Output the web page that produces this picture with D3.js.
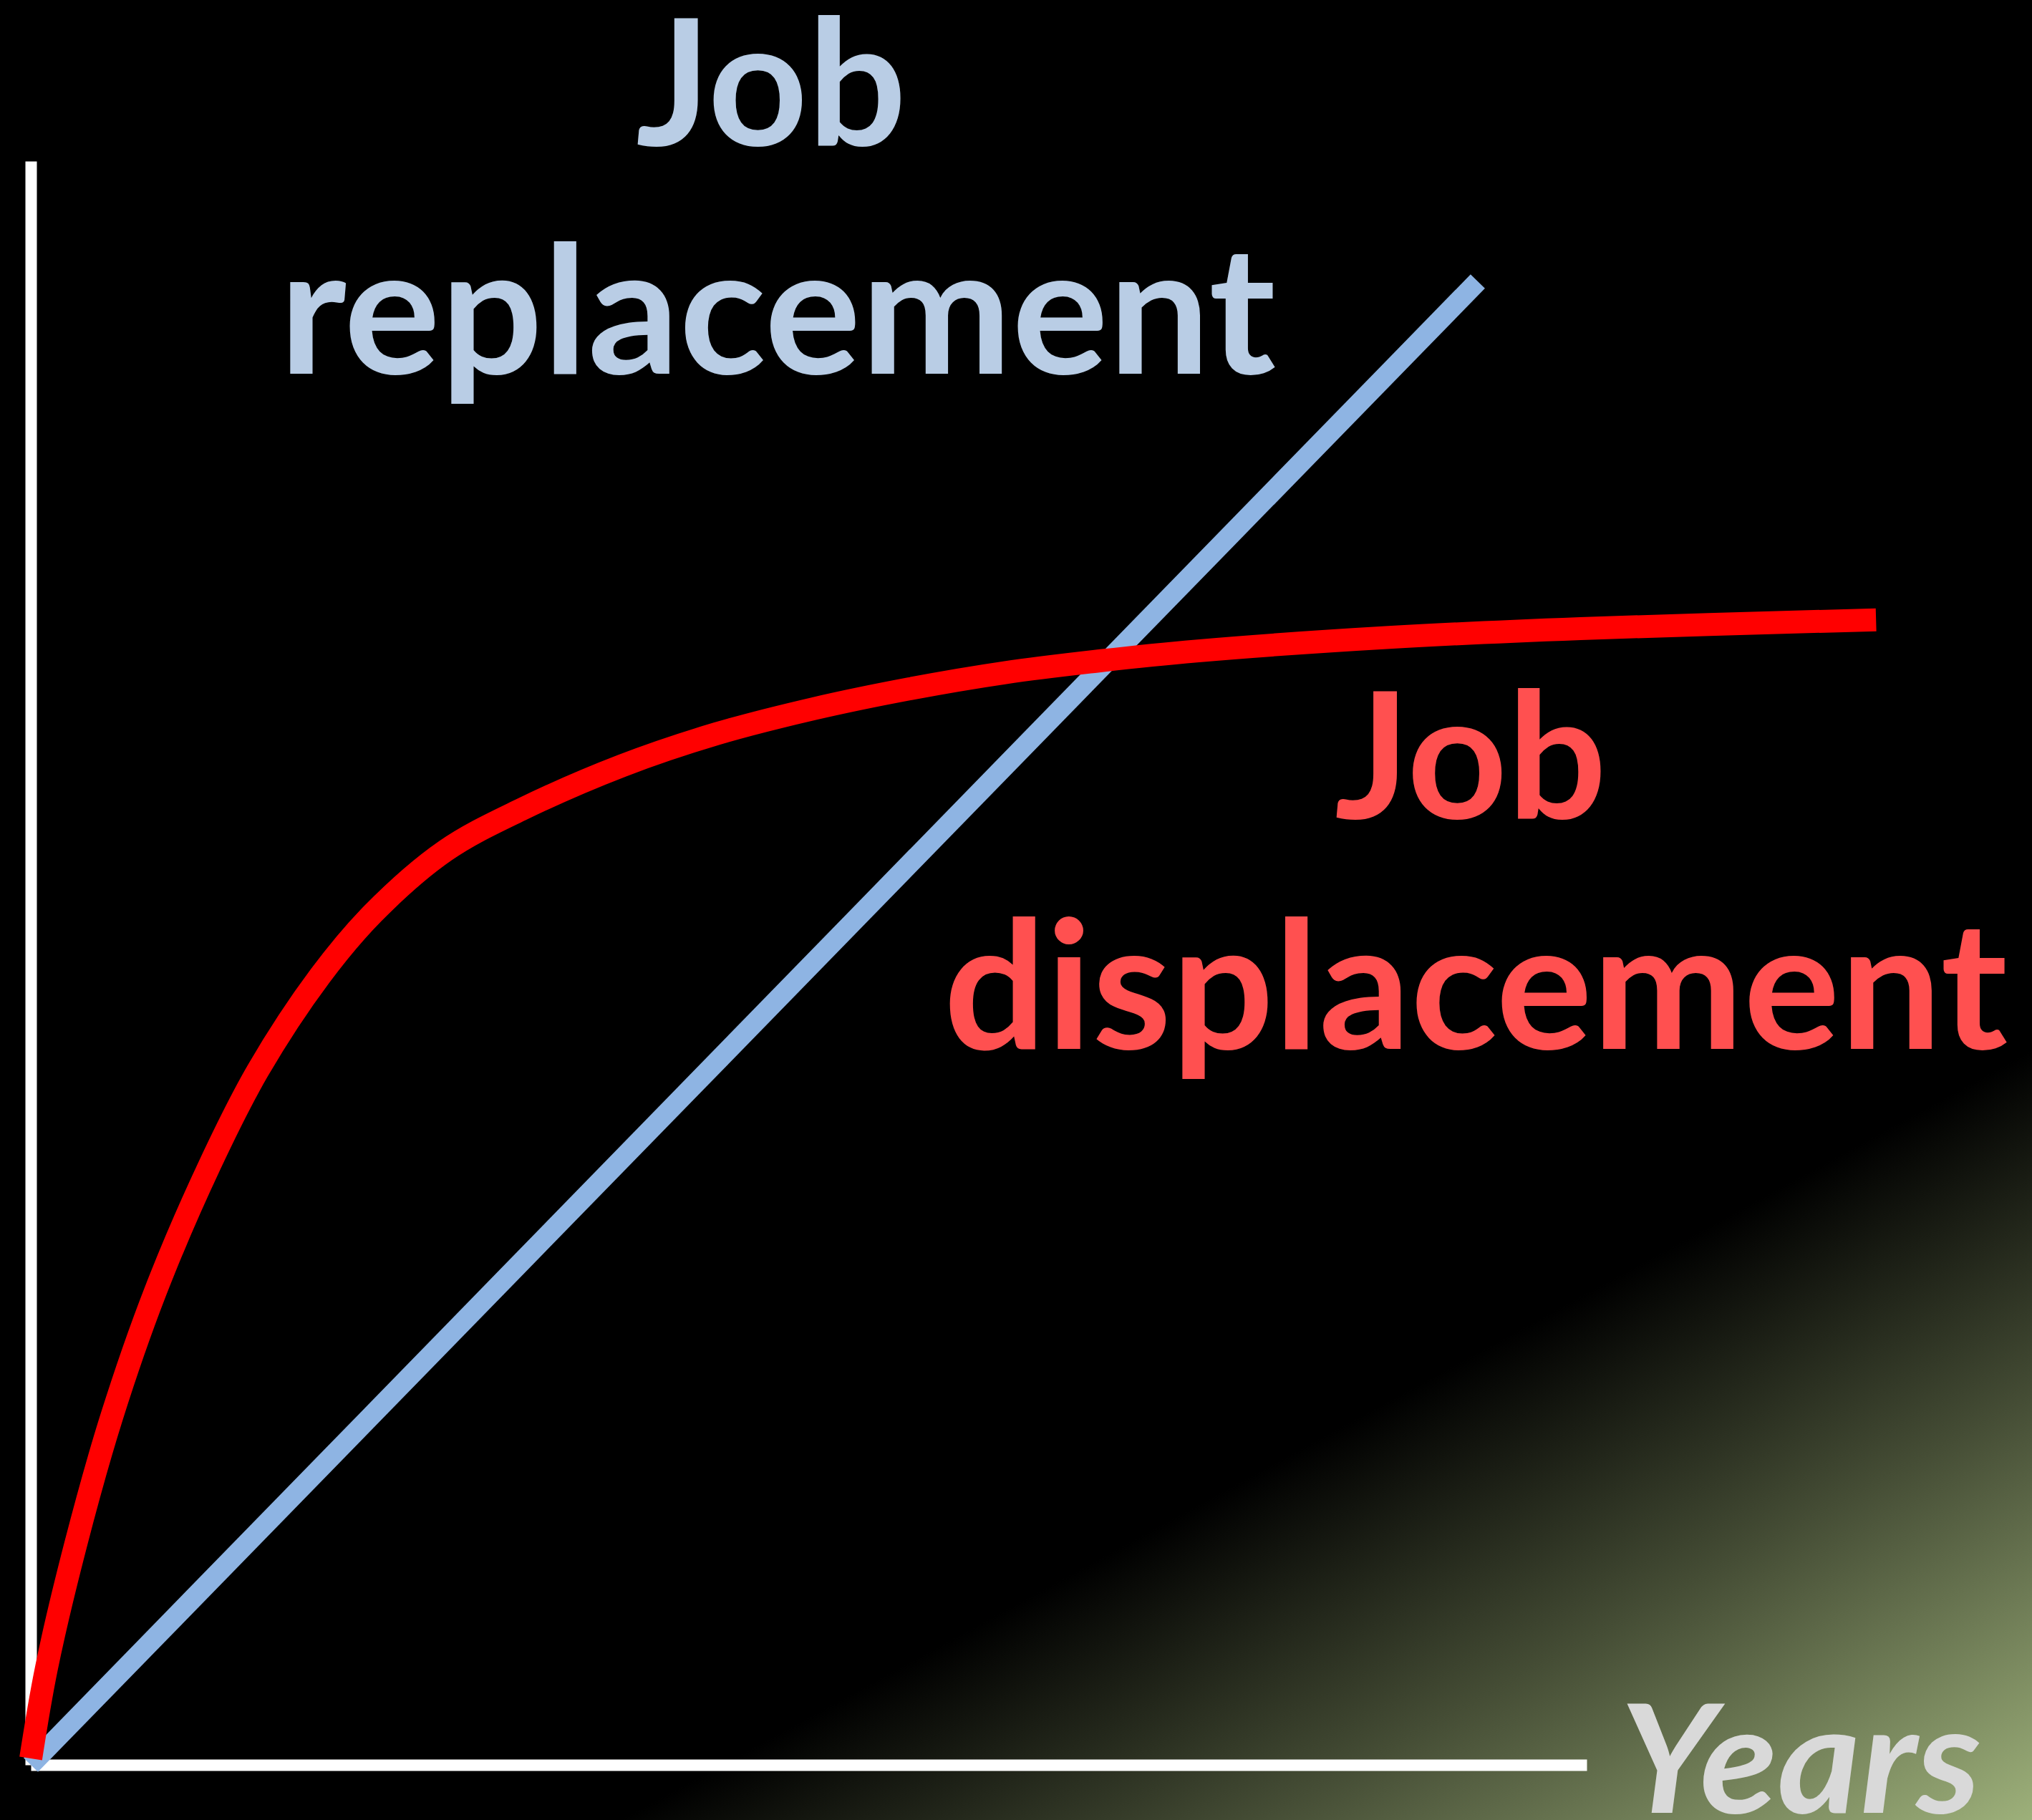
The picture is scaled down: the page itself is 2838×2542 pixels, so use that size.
<!DOCTYPE html>
<html>
<head>
<meta charset="utf-8">
<script src="https://cdn.jsdelivr.net/npm/d3@7"></script>
<style>
  html, body { margin: 0; padding: 0; background: #000; }
  svg { display: block; }
</style>
</head>
<body>
<script>
// ---- data (x: years, y: jobs index) ----
const displacementYears = [0, 1.0, 2.9, 5.2, 8.0, 11.5, 14.6, 18.6, 22.0, 26.65, 31.6, 38.0, 44.1, 50.3, 56.5, 62.6, 68.8, 74.9, 87.3, 99.6, 118.6];
const displacementJobs  = [0.4, 6.0, 13.8, 21.7, 29.5, 37.4, 43.3, 49.2, 53.1, 57.0, 59.6, 62.3, 64.3, 65.85, 67.1, 68.1, 68.85, 69.45, 70.3, 70.85, 71.4];
const replacementYears  = [0, 93.0];
const replacementJobs   = [0, 92.5];
const labelReplacement  = ["Job", "replacement"];
const labelDisplacement = ["Job", "displacement"];
const axisLabel = "Years";

const W = 2838, H = 2542;
const svg = d3.select("body").append("svg").attr("width", W).attr("height", H);

// background with olive gradient at bottom-right
const defs = svg.append("defs");
const grad = defs.append("linearGradient").attr("id", "bg")
  .attr("gradientUnits", "userSpaceOnUse")
  .attr("x1", 2386).attr("y1", 1713).attr("x2", 2838).attr("y2", 2542);
grad.append("stop").attr("offset", 0).attr("stop-color", "#000000");
grad.append("stop").attr("offset", 0.45).attr("stop-color", "#454d35");
grad.append("stop").attr("offset", 1).attr("stop-color", "#9db07a");
svg.append("rect").attr("width", W).attr("height", H).attr("fill", "url(#bg)");

const x = d3.scaleLinear().domain([0, 100]).range([43, 2216]);
const y = d3.scaleLinear().domain([0, 100]).range([2465, 225]);

// axes
const gy = svg.append("g").attr("transform", `translate(${x(0)},0)`)
  .call(d3.axisLeft(y).tickValues([]).tickSizeOuter(0));
gy.select(".domain").attr("stroke", "#ffffff").attr("stroke-width", 16);
const gx = svg.append("g").attr("transform", `translate(0,${y(0)})`)
  .call(d3.axisBottom(x).tickValues([]).tickSizeOuter(0));
gx.select(".domain").attr("stroke", "#ffffff").attr("stroke-width", 16);

// lines
const line = d3.line().x(d => x(d[0])).y(d => y(d[1]));
svg.append("path")
  .datum(d3.zip(replacementYears, replacementJobs))
  .attr("d", line)
  .attr("fill", "none").attr("stroke", "#8eb4e3").attr("stroke-width", 28);

svg.append("path")
  .datum(d3.zip(displacementYears, displacementJobs))
  .attr("d", line.curve(d3.curveCatmullRom.alpha(0.5)))
  .attr("fill", "none").attr("stroke", "#ff0000").attr("stroke-width", 32);

// labels
const font = "Lato, 'Open Sans', sans-serif";
function label(txt, lx, ly, len, size, color, italic) {
  svg.append("text").text(txt)
    .attr("x", lx).attr("y", ly)
    .attr("textLength", len).attr("lengthAdjust", "spacingAndGlyphs")
    .attr("font-family", font).attr("font-weight", 700)
    .attr("font-style", italic ? "italic" : "normal")
    .attr("font-size", size).attr("fill", color);
}
label(labelReplacement[0], 888, 203, 378, 245, "#b9cde5");
label(labelReplacement[1], 390, 522, 1392, 250, "#b9cde5");
label(labelDisplacement[0], 1864, 1143, 380, 245, "#ff5050");
label(labelDisplacement[1], 1318, 1465, 1486, 250, "#ff5050");
label(axisLabel, 2262, 2532, 505, 210, "#d9d9d9", true);
</script>
</body>
</html>
